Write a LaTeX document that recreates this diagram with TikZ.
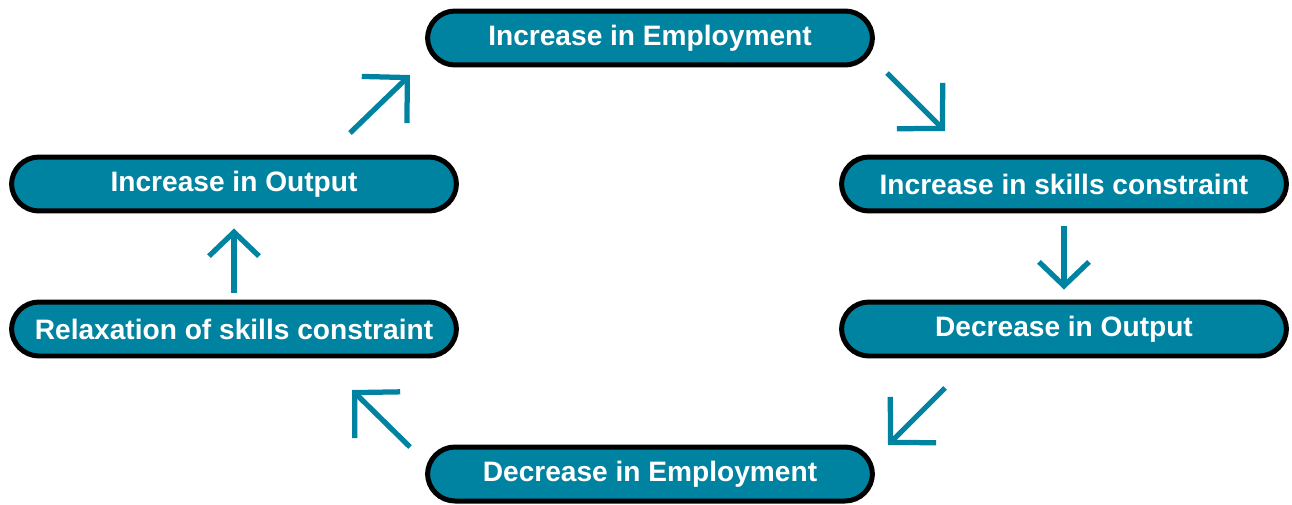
\documentclass[tikz,border=0pt]{standalone}
\usepackage{fontspec}
\setmainfont{Liberation Sans}
\usetikzlibrary{arrows.meta}
\definecolor{cycleteal}{RGB}{0,131,160}
\tikzset{
  stage/.style={draw=black, line width=0.1cm, fill=cycleteal, rounded corners=0.55cm,
    minimum width=8.9cm, minimum height=1.08cm, inner sep=0pt, text=white,
    font=\bfseries\fontsize{16}{18}\selectfont},
  flow/.style={draw=cycleteal, line width=0.105cm,
    -{Straight Barb[length=0.64cm, width=1.3cm, sharp]}},
  flowshort/.style={flow, -{Straight Barb[length=0.48cm, width=1.0cm, sharp]}}
}
\begin{document}
\begin{tikzpicture}[x=0.02cm,y=-0.02cm]
    \useasboundingbox (0,0) rectangle (1292,504);
    % boxes of the cycle
    \node[stage] (empup)    at (650,38)  {Increase in Employment};
    \node[stage] (skillup)  at (1064,184) {Increase in skills constraint};
    \node[stage] (outdown)  at (1064,329) {Decrease in Output};
    \node[stage] (empdown)  at (650,474) {Decrease in Employment};
    \node[stage] (relax)    at (234,329) {Relaxation of skills constraint};
    \node[stage] (outup)    at (234,184) {Increase in Output};
    % free ends of the slanted arrows
    \coordinate (a1s) at (350,133); \coordinate (a1e) at (410,75);
    \coordinate (a2s) at (887,73);  \coordinate (a2e) at (945,131);
    \coordinate (a3s) at (945,388); \coordinate (a3e) at (888,445);
    \coordinate (a4s) at (410,447); \coordinate (a4e) at (352,390);
    \draw[flow] (a1s) -- (a1e);
    \draw[flow] (a2s) -- (a2e);
    \draw[flowshort, shorten <=13*0.02cm, shorten >=10*0.02cm] (skillup) -- (outdown);
    \draw[flow] (a3s) -- (a3e);
    \draw[flow] (a4s) -- (a4e);
    \draw[flowshort, shorten <=7*0.02cm, shorten >=15*0.02cm] (relax) -- (outup);
\end{tikzpicture}
\end{document}
